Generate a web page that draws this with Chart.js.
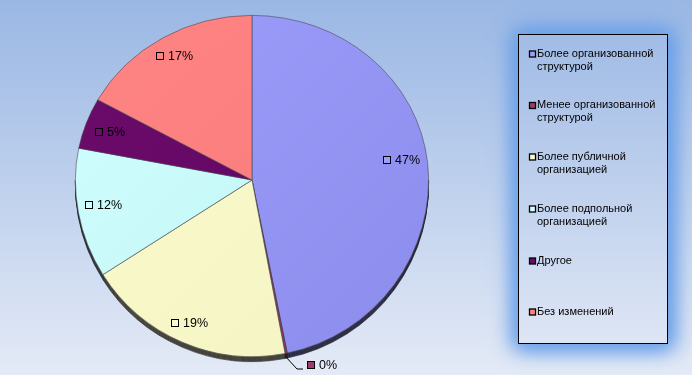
<!DOCTYPE html>
<html><head><meta charset="utf-8">
<style>html,body{margin:0;padding:0;background:#c0d0ec}canvas{display:block}</style>
<script src="https://cdn.jsdelivr.net/npm/chart.js@4"></script>
</head><body><canvas id="c" width="692" height="375"></canvas>
<script>
const categories = ["Более организованной структурой","Менее организованной структурой","Более публичной организацией","Более подпольной организацией","Другое","Без изменений"];
const legendLines = [["Более организованной","структурой"],["Менее организованной","структурой"],["Более публичной","организацией"],["Более подпольной","организацией"],["Другое"],["Без изменений"]];
const values = [46.8,0.2,19.0,12.1,5.0,16.9];
const colorsLight = ["#9d9dfc","#a03a6c","#fbfbce","#d0ffff","#6c0c6c","#ff8484"];
const colorsDark  = ["#8c8cec","#8f2f5f","#f3f3c2","#c0f2f2","#600460","#f87a7a"];

const LEGEND = {x:518.5,y:34.5,w:149,h:309,keyX:529.5,textX:537,rows:[53.5,105,156.5,208.5,260.5,311.5],lh:13};
const labelNudge = [[-2,-6],[32.5,49.6],[-22.6,16.2],[-28,0],[-24,-1],[-22,-5]];
const TOP_SQUASH = 165/177, DEPTH = 5;
const FONT12 = '12.5px "Liberation Sans", Arial, sans-serif';
const FONT_L = '11px "Liberation Sans", Arial, sans-serif';

function pageGradient(ctx){
  const g = ctx.createLinearGradient(0,0,0,375);
  g.addColorStop(0,'#9ab7e4'); g.addColorStop(1,'#e4eaf6');
  return g;
}
const backdrop = { id:'backdrop', beforeDraw(chart){
  const c = chart.ctx; c.save(); c.fillStyle = pageGradient(c); c.fillRect(0,0,692,375); c.restore();
}};
const pie3d = { id:'pie3d', beforeDatasetDraw(chart,args){
  const c = chart.ctx, meta = args.meta, a = meta.data[0], cy = a.y;
  c.save();
  c.beginPath(); c.rect(0,cy,692,375-cy); c.clip();
  c.filter = 'brightness(0.45)';
  for(let d=DEPTH;d>=1;d--){ c.save(); c.translate(0,d); meta.controller.draw(); c.restore(); }
  c.restore();
  c.save(); c.beginPath(); c.rect(0,cy,692,375-cy); c.clip(); meta.controller.draw(); c.restore();
  c.save(); c.beginPath(); c.rect(0,0,692,cy+0.5); c.clip();
  c.translate(0,cy); c.scale(1,TOP_SQUASH); c.translate(0,-cy);
  meta.controller.draw(); c.restore();
  return false;
}};
const annotations = { id:'annotations', afterDraw(chart){
  const c = chart.ctx, meta = chart.getDatasetMeta(0), total = values.reduce((s,v)=>s+v,0);
  c.save();
  c.font = FONT12; c.textBaseline='middle'; c.textAlign='left';
  meta.data.forEach((a,i)=>{
    const mid=(a.startAngle+a.endAngle)/2, r=a.outerRadius*0.78;
    const bx=Math.round(a.x+Math.cos(mid)*r+labelNudge[i][0]), by=Math.round(a.y+Math.sin(mid)*r+labelNudge[i][1]);
    if(values[i]<1){
      c.strokeStyle='#000'; c.lineWidth=1; c.beginPath();
      c.moveTo(a.x+Math.cos(mid)*a.outerRadius, a.y+Math.sin(mid)*a.outerRadius+4);
      c.lineTo(bx-14,by+4); c.lineTo(bx-8,by+4); c.stroke();
    }
    c.fillStyle=colorsLight[i]; c.fillRect(bx-3,by-3,7,7);
    c.strokeStyle='#000'; c.lineWidth=1; c.strokeRect(bx-3.5,by-3.5,7,7);
    c.fillStyle='#000';
    c.fillText(Math.round(values[i]/total*100)+'%',bx+8,by+1);
  });
  const L=LEGEND;
  c.save();
  c.beginPath(); c.rect(0,0,692,375); c.rect(L.x,L.y,L.w,L.h); c.clip('evenodd');
  c.shadowColor='#6aa0e8'; c.shadowBlur=20; c.fillStyle='#6aa0e8';
  const off=1000; c.shadowOffsetX=off;
  c.fillRect(L.x-5-off,L.y-5,L.w+10,L.h+10);
  c.fillRect(L.x-3-off,L.y-3,L.w+6,L.h+6);
  c.restore();
  c.fillStyle=pageGradient(c); c.fillRect(L.x,L.y,L.w,L.h);
  c.strokeStyle='#000'; c.lineWidth=1; c.strokeRect(L.x,L.y,L.w,L.h);
  c.font=FONT_L; c.textBaseline='middle';
  legendLines.forEach((lines,i)=>{
    const y=L.rows[i];
    c.fillStyle=colorsLight[i]; c.fillRect(L.keyX,y-2.5,6,6);
    c.strokeStyle='#000'; c.lineWidth=1.3; c.strokeRect(L.keyX,y-2.5,6,6);
    c.fillStyle='#000';
    lines.forEach((t,j)=>c.fillText(t,L.textX,y+j*L.lh));
  });
  c.restore();
}};
new Chart(document.getElementById('c'),{
  type:'pie',
  data:{labels:categories,datasets:[{data:values,
    backgroundColor(ctx){
      const a=ctx.chart.chartArea; if(!a) return colorsLight[ctx.dataIndex];
      const g=ctx.chart.ctx.createLinearGradient(a.left,a.top,a.right,a.bottom);
      g.addColorStop(0,colorsLight[ctx.dataIndex]); g.addColorStop(1,colorsDark[ctx.dataIndex]);
      return g;
    },
    borderColor:'rgba(70,70,80,0.75)',borderWidth:0.8}]},
  options:{responsive:false,animation:false,
    layout:{padding:{left:75,right:263,top:3,bottom:18}},
    plugins:{legend:{display:false},tooltip:{enabled:false}}},
  plugins:[backdrop,pie3d,annotations]
});
</script></body></html>
